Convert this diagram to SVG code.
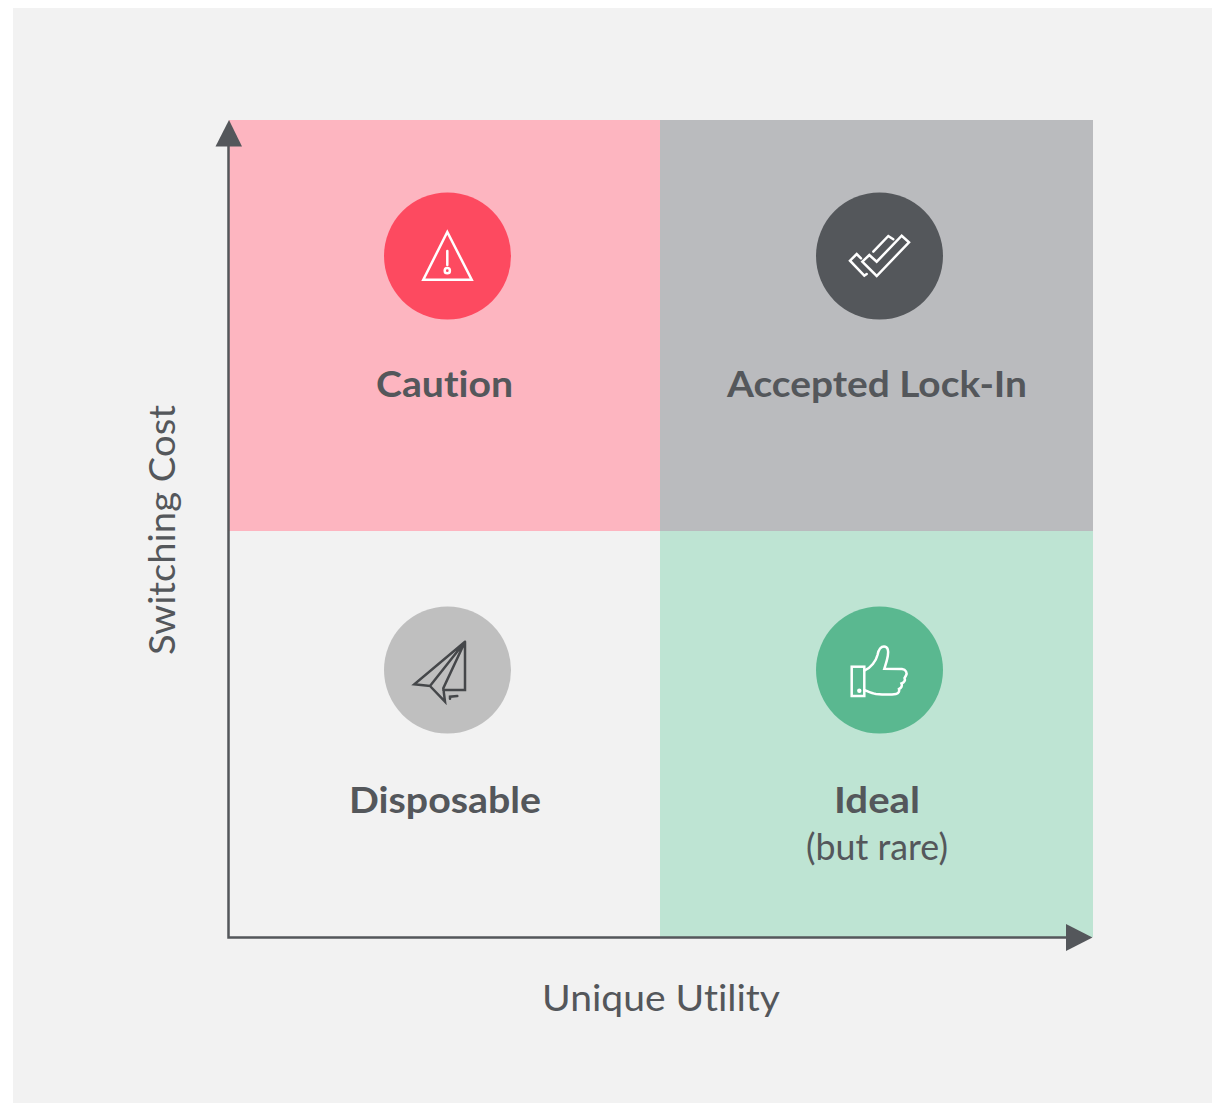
<svg xmlns="http://www.w3.org/2000/svg" width="1212" height="1103" viewBox="0 0 1212 1103">
<style>
text{font-family:"Lato","Open Sans","Liberation Sans",sans-serif;fill:#54575b;text-anchor:middle;font-variant-ligatures:none}
.t{font-size:37px;font-weight:700}
.a{font-size:37px;font-weight:400}
.i{fill:none;stroke-width:2.500;stroke-linejoin:miter;stroke-linecap:round}
.w{stroke:#fff}
.d{stroke:#45474a}
</style>
<rect width="1212" height="1103" fill="#fff"/>
<rect x="13" y="8" width="1199" height="1095" fill="#f2f2f2"/>
<g id="caution">
<rect x="229" y="120" width="431" height="411" fill="#fdb5c0"/>
<circle cx="447.500" cy="256" r="63.500" fill="#fd4a60"/>
<path class="i w" d="M447.300 232L423.300 279.700H471.700Z"/>
<path class="i w" d="M447.300 251V265"/>
<circle class="i w" cx="447.300" cy="270.700" r="2.600"/>
<text class="t" x="444.500" y="397" textLength="137" lengthAdjust="spacingAndGlyphs">Caution</text>
</g>
<g id="accepted-lock-in">
<rect x="660" y="120" width="433" height="411" fill="#babbbe"/>
<circle cx="879.500" cy="256" r="63.500" fill="#54575b"/>
<path class="i w" d="M862.300 261.700L876.700 276L909 242.300L901.700 235.700L876.700 261.700L869.300 255Z"/>
<path class="i w" d="M873.300 251.700L888.300 236L893.300 239.300"/>
<path class="i w" d="M861 258.300L856.700 254L850 260.700L864.300 275.700L866.700 274"/>
<text class="t" x="877" y="397" textLength="300" lengthAdjust="spacingAndGlyphs">Accepted Lock-In</text>
</g>
<g id="disposable">
<circle cx="447.500" cy="670" r="63.500" fill="#bfbfbf"/>
<path class="i d" d="M465 641.700L414.300 684.300L430 686ZM465 641.700L443.300 688.300L445 701.700L430 686M465 641.700V690H443.300"/>
<path class="i d" d="M450 698.700V696.700L457.300 696"/>
<text class="t" x="445" y="813" textLength="192" lengthAdjust="spacingAndGlyphs">Disposable</text>
</g>
<g id="ideal">
<rect x="660" y="531" width="433" height="406" fill="#bee4d3"/>
<circle cx="879.500" cy="670" r="63.500" fill="#5ab890"/>
<rect class="i w" x="851.700" y="666.700" width="12.600" height="29.300"/>
<circle cx="859.300" cy="690.700" r="2.200" fill="#fff"/>
<path class="i w" d="M864.300 670.700C871 668 876 661 877.500 655C878.500 650 880 646.500 884 646.500C888 646.500 888.800 651 887.800 656C887 661 885.500 665 884.300 668.800L902 669C906 669.500 907.500 673 906 675.500L904.500 678C905.500 680 904.500 682.500 901.500 683.500C902.500 685.500 901.500 688 899 689C899.500 691 899 693.500 896 694C894 694.300 882 694.500 876 694C872 693.500 868 691.500 864.300 690"/>
<text class="t" x="877" y="813" textLength="86" lengthAdjust="spacingAndGlyphs">Ideal</text>
<text class="a" x="877" y="860" textLength="142" lengthAdjust="spacingAndGlyphs">(but rare)</text>
</g>
<g id="connectors" fill="#54575b" stroke="none">
<path d="M228.500 146V937.500H1066" fill="none" stroke="#54575b" stroke-width="2.500"/>
<path d="M229 120L215.500 146.500H242Z"/>
<path d="M1066 924L1092.500 937.500L1066 951Z"/>
</g>
<text class="a" x="661" y="1011" textLength="238" lengthAdjust="spacingAndGlyphs">Unique Utility</text>
<text class="a" transform="translate(175 530) rotate(-90)" textLength="250" lengthAdjust="spacingAndGlyphs">Switching Cost</text>
</svg>
